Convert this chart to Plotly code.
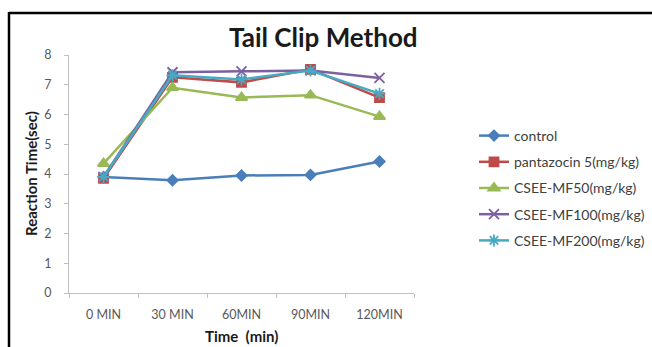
import plotly.graph_objects as go

# Time points and reaction times (sec) per treatment group
time_labels = ["0 MIN", "30 MIN", "60MIN", "90MIN", "120MIN"]
control = [3.90, 3.79, 3.95, 3.97, 4.42]
pantazocin = [3.85, 7.25, 7.08, 7.52, 6.57]
csee_mf50 = [4.35, 6.90, 6.57, 6.65, 5.93]
csee_mf100 = [3.90, 7.42, 7.45, 7.48, 7.23]
csee_mf200 = [3.90, 7.32, 7.18, 7.48, 6.70]

series = [
    ("control", control, "#4A7EBB", "diamond", 8),
    ("pantazocin 5(mg/kg)", pantazocin, "#BE4B48", "square", 9),
    ("CSEE-MF50(mg/kg)", csee_mf50, "#98B954", "triangle-up", 10),
    ("CSEE-MF100(mg/kg)", csee_mf100, "#7D60A0", "x-thin-open", 10),
    ("CSEE-MF200(mg/kg)", csee_mf200, "#46AAC5", "asterisk-open", 10),
]

FONT = "Lato, 'Open Sans', sans-serif"

fig = go.Figure()
for name, vals, color, symbol, size in series:
    fig.add_trace(go.Scatter(
        x=time_labels, y=vals, name=name, mode="lines+markers",
        legendgroup=name,
        line=dict(color=color, width=2.5),
        marker=dict(symbol=symbol, size=size, color=color,
                    line=dict(color=color, width=1.8)),
    ))

# Plot area geometry (pixels)
W, H = 652, 347
L, R, T, B = 69, 414, 55, 293

def px_x(p):
    return (p - L) / (R - L)

def px_y(p):
    return (B - p) / (B - T)

def label(text, x, y, size, angle=0):
    return dict(text=text, x=px_x(x), y=px_y(y), xref="paper", yref="paper",
                xanchor="center", yanchor="middle", showarrow=False,
                textangle=angle,
                font=dict(family=FONT, size=size, color="#1a1a1a"))

fig.update_layout(
    width=W, height=H,
    margin=dict(l=L, r=W - R, t=T, b=H - B, autoexpand=False),
    paper_bgcolor="white", plot_bgcolor="white",
    font=dict(family=FONT, size=12, color="#595959"),
    showlegend=True,
    legend=dict(
        x=px_x(474), y=px_y(120), xanchor="left", yanchor="top",
        font=dict(family=FONT, size=14, color="#404040"),
        tracegroupgap=5, itemwidth=30, bgcolor="rgba(0,0,0,0)",
    ),
    xaxis=dict(
        type="category", showgrid=False, zeroline=False,
        showline=True, linecolor="#BFBFBF", linewidth=1,
        ticks="outside", ticklen=4, tickcolor="#BFBFBF",
        tickson="boundaries", ticklabelstandoff=10,
        tickfont=dict(family=FONT, size=12.5, color="#595959"),
        range=[-0.5, 4.5],
    ),
    yaxis=dict(
        range=[0, 8], dtick=1, showgrid=False, zeroline=False,
        showline=True, linecolor="#BFBFBF", linewidth=1,
        ticks="outside", ticklen=4, tickcolor="#BFBFBF",
        ticklabelstandoff=10,
        tickfont=dict(family=FONT, size=12.5, color="#595959"),
    ),
    annotations=[
        label("<b>Tail Clip Method</b>", 323, 37, 26),
        label("<b>Reaction Time(sec)</b>", 31, 174, 15, -90),
        label("<b>Time  (min)</b>", 241, 336, 15),
    ],
    shapes=[
        dict(type="line", xref="paper", yref="paper",
             x0=px_x(9), x1=px_x(9), y0=px_y(12), y1=px_y(H),
             line=dict(color="black", width=2.5)),
        dict(type="line", xref="paper", yref="paper",
             x0=px_x(9), x1=px_x(W), y0=px_y(13), y1=px_y(13),
             line=dict(color="black", width=2.5)),
    ],
)

fig.write_html("out.html", config={"displayModeBar": False})
